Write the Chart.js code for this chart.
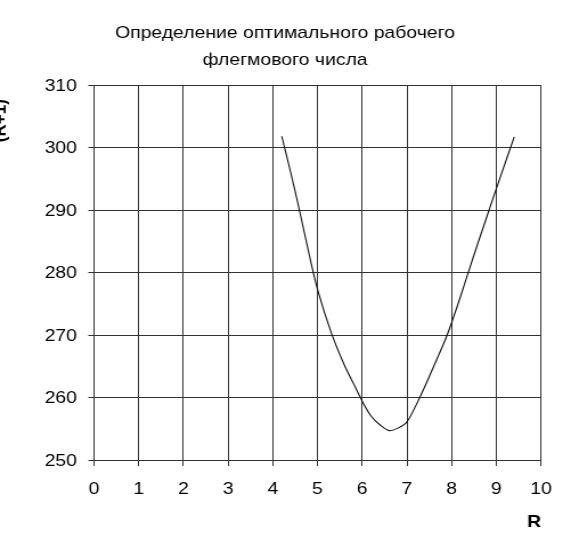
<!DOCTYPE html>
<html>
<head>
<meta charset="utf-8">
<script src="https://cdn.jsdelivr.net/npm/chart.js@4"></script>
<style>
  html, body { margin: 0; padding: 0; background: #fff; overflow: hidden; }
  /* the original picture is stretched sideways, so draw narrow and widen it */
  #wrap { width: 501px; height: 546px; transform: scaleX(1.1397); transform-origin: 0 0; }
</style>
</head>
<body>
<div id="wrap"><canvas id="chart"></canvas></div>
<script>
// reflux ratio R and the value N(R+1)
const refluxR = [4.2, 4.4, 4.6, 4.8, 5.0, 5.3, 5.6, 5.8, 6.0, 6.2, 6.4, 6.6, 6.8, 7.0, 7.3, 7.6, 7.9, 8.2, 8.5, 8.8, 9.1, 9.4];
const values = [301.8, 296.0, 289.8, 283.3, 277.3, 270.5, 265.2, 262.3, 259.4, 257.0, 255.6, 254.7, 255.1, 256.1, 260.2, 265.0, 270.0, 276.2, 282.8, 289.2, 295.5, 301.7];

const titleLines = ["Определение оптимального рабочего", "флегмового числа"];
const xTitle = "R";
const yTitle = "(R+1)   ";

const font = "'Liberation Sans', Arial, sans-serif";
const gridColor = "#333";

const points = refluxR.map((r, i) => ({ x: r, y: values[i] }));

new Chart(document.getElementById("chart"), {
  type: "line",
  data: {
    datasets: [{
      data: points,
      borderColor: "#111",
      borderWidth: 1.1,
      pointRadius: 0,
      tension: 0.3,
      fill: false
    }]
  },
  options: {
    responsive: true,
    maintainAspectRatio: false,
    animation: false,
    layout: { padding: { left: 25.5, right: 26.3, top: 0, bottom: 0 } },
    plugins: {
      legend: { display: false },
      tooltip: { enabled: false },
      title: {
        display: true,
        text: titleLines,
        color: "#000",
        font: { family: font, size: 17, weight: "normal", lineHeight: 27 / 17 },
        padding: { top: 20, bottom: 11 }
      }
    },
    scales: {
      x: {
        type: "linear",
        min: 0,
        max: 10,
        ticks: { stepSize: 1, color: "#000", padding: 13, font: { family: font, size: 17 } },
        grid: { color: gridColor, tickLength: 6, tickColor: gridColor },
        border: { color: gridColor },
        title: {
          display: true,
          text: xTitle,
          align: "end",
          color: "#000",
          font: { family: font, size: 17, weight: "bold" },
          padding: { top: 4, bottom: 13 }
        },
        afterFit: (s) => { s.height = 86; }
      },
      y: {
        min: 250,
        max: 310,
        ticks: { stepSize: 10, color: "#000", padding: 10, labelOffset: 1, font: { family: font, size: 17 } },
        grid: { color: gridColor, tickLength: 5, tickColor: gridColor },
        border: { color: gridColor },
        title: {
          display: true,
          text: yTitle,
          align: "end",
          color: "#000",
          font: { family: font, size: 17, weight: "bold" },
          padding: { top: -35, bottom: 4 }
        },
        afterFit: (s) => { s.width = 57; }
      }
    }
  }
});
</script>
</body>
</html>
